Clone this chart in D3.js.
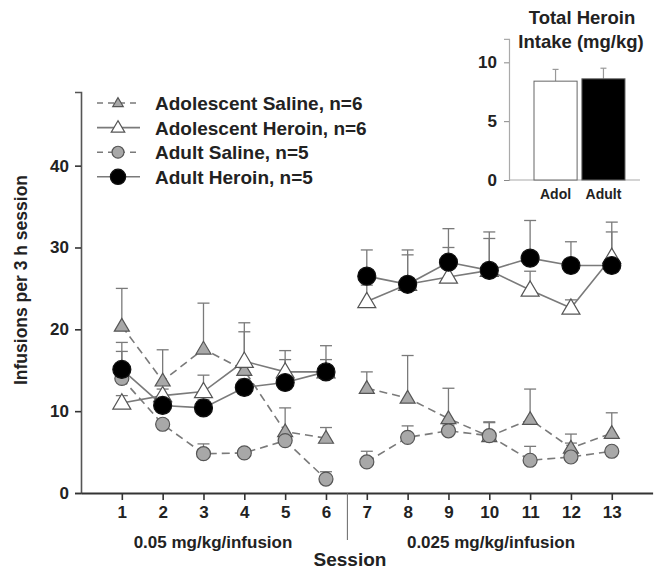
<!DOCTYPE html>
<html>
<head>
<meta charset="utf-8">
<script src="https://cdn.jsdelivr.net/npm/d3@7"></script>
<style>
body { margin: 0; background: #fff; }
text { font-family: "Liberation Sans", Arial, sans-serif; font-weight: bold; fill: #222; }
</style>
</head>
<body>
<div id="chart"></div>
<script>
// sessions and dose labels
var sessions = [1,2,3,4,5,6,7,8,9,10,11,12,13];
var doseLabels = ["0.05 mg/kg/infusion", "0.025 mg/kg/infusion"];

// infusions per session (mean) and SEM
var adolSaline    = [20.4,13.7,17.6,15.0, 7.5, 6.7,12.8,11.6, 9.1, 6.9, 9.0, 5.5, 7.3];
var adolSalineErr = [ 4.6, 3.8, 5.6, 4.7, 2.9, 1.3, 2.0, 5.2, 3.7, 1.8, 3.7, 1.7, 2.5];
var adolHeroin    = [11.0,11.9,12.4,16.1,14.8,14.8,23.4,25.5,26.4,27.2,24.8,22.6,28.8];
var adolHeroinErr = [ 0.9, 0.8, 2.0, 4.7, 1.5, 1.5, 2.0, 3.6, 3.6, 3.9, 2.3, 1.0, 4.3];
var adultSaline    = [14.0, 8.4, 4.8, 4.9, 6.4, 1.7, 3.8, 6.8, 7.6, 7.0, 4.0, 4.4, 5.1];
var adultSalineErr = [ 3.3, 0.5, 1.2, 0.5, 0.6, 0.9, 1.3, 1.4, 0.7, 1.6, 1.7, 1.7, 0.4];
var adultHeroin    = [15.1,10.7,10.4,12.9,13.5,14.8,26.5,25.5,28.2,27.2,28.7,27.8,27.8];
var adultHeroinErr = [ 3.3, 1.0, 1.0, 1.0, 3.9, 3.2, 3.2, 4.2, 4.1, 4.7, 4.6, 2.9, 4.1];

// inset: total heroin intake
var insetGroups = ["Adol", "Adult"];
var insetMeans  = [8.4, 8.6];
var insetErr    = [1.0, 0.9];

var width = 654, height = 572;
var svg = d3.select("#chart").append("svg")
	.attr("width", width)
	.attr("height", height);

var x = d3.scaleLinear().domain([0, 14]).range([81, 652.6]);
var y = d3.scaleLinear().domain([0, 49]).range([493, 92]);

var lineCol = "#7a7a7a";

// axes
var yAxis = svg.append("g").attr("transform", "translate(81,0)")
	.call(d3.axisLeft(y).tickValues([0,10,20,30,40]).tickSize(6).tickPadding(6));
yAxis.select(".domain").attr("stroke", "#555").attr("stroke-width", 1.6);
yAxis.selectAll(".tick line").attr("stroke", "#333").attr("stroke-width", 1.6);
yAxis.selectAll(".tick text").style("font-size", "17px").attr("fill", "#222");

var xAxis = svg.append("g").attr("transform", "translate(0,493)")
	.call(d3.axisBottom(x).tickValues(sessions).tickSize(7).tickPadding(6).tickSizeOuter(0));
xAxis.select(".domain").attr("stroke", "#333").attr("stroke-width", 2);
xAxis.selectAll(".tick line").attr("stroke", "#333").attr("stroke-width", 1.6);
xAxis.selectAll(".tick text").style("font-size", "17px").attr("fill", "#222");

// divider between dose phases
svg.append("line")
	.attr("x1", x(6.5) + 1).attr("x2", x(6.5) + 1)
	.attr("y1", 493).attr("y2", 540)
	.attr("stroke", "#666").attr("stroke-width", 1);

svg.append("text").attr("x", 213).attr("y", 548)
	.attr("text-anchor", "middle").style("font-size", "17px").text(doseLabels[0]);
svg.append("text").attr("x", 491).attr("y", 548)
	.attr("text-anchor", "middle").style("font-size", "17px").text(doseLabels[1]);
svg.append("text").attr("x", 350).attr("y", 566)
	.attr("text-anchor", "middle").style("font-size", "19px").text("Session");

svg.append("text")
	.attr("transform", "translate(27,280) rotate(-90)")
	.attr("text-anchor", "middle").style("font-size", "17.5px")
	.text("Infusions per 3 h session");

// series
var series = [
	{ name: "Adolescent Saline, n=6", vals: adolSaline, err: adolSalineErr, shape: "tri", size: 15, fill: "#a8a8a8", dash: "8,5" },
	{ name: "Adolescent Heroin, n=6", vals: adolHeroin, err: adolHeroinErr, shape: "tri", size: 18, fill: "#fff", dash: null },
	{ name: "Adult Saline, n=5", vals: adultSaline, err: adultSalineErr, shape: "circ", size: 7, fill: "#a8a8a8", dash: "8,5" },
	{ name: "Adult Heroin, n=5", vals: adultHeroin, err: adultHeroinErr, shape: "circ", size: 9, fill: "#000", dash: null }
];

function drawMarker(g, s, cx, cy, scale) {
	var k = scale || 1;
	if (s.shape == "circ") {
		g.append("circle").attr("cx", cx).attr("cy", cy).attr("r", s.size * k)
			.attr("fill", s.fill).attr("stroke", s.fill == "#000" ? "#111" : "#555").attr("stroke-width", 1.2);
	} else {
		var w = s.size * k, h = w * 0.85;
		var pts = [[cx, cy - h * 0.6], [cx - w / 2, cy + h * 0.4], [cx + w / 2, cy + h * 0.4]];
		g.append("path").attr("d", "M" + pts.join("L") + "Z")
			.attr("fill", s.fill).attr("stroke", "#555").attr("stroke-width", 1.2);
	}
}

var line = d3.line().x(function(d) { return x(d.s); }).y(function(d) { return y(d.v); });

// error bars first
series.forEach(function(s) {
	var g = svg.append("g");
	sessions.forEach(function(ses, i) {
		var top = y(s.vals[i] + s.err[i]);
		g.append("line").attr("x1", x(ses)).attr("x2", x(ses))
			.attr("y1", y(s.vals[i])).attr("y2", top)
			.attr("stroke", lineCol).attr("stroke-width", 1.3);
		g.append("line").attr("x1", x(ses) - 6).attr("x2", x(ses) + 6)
			.attr("y1", top).attr("y2", top)
			.attr("stroke", lineCol).attr("stroke-width", 1.3);
	});
});

// lines, one per phase
series.forEach(function(s) {
	var pts = sessions.map(function(ses, i) { return { s: ses, v: s.vals[i] }; });
	[pts.slice(0, 6), pts.slice(6)].forEach(function(seg) {
		svg.append("path").datum(seg).attr("d", line)
			.attr("fill", "none").attr("stroke", lineCol).attr("stroke-width", 1.6)
			.attr("stroke-dasharray", s.dash);
	});
});

// markers
series.forEach(function(s) {
	var g = svg.append("g");
	sessions.forEach(function(ses, i) { drawMarker(g, s, x(ses), y(s.vals[i])); });
});

// legend
var legend = svg.append("g");
series.forEach(function(s, i) {
	var ly = 103 + i * 24.6;
	legend.append("line").attr("x1", 97).attr("x2", 140).attr("y1", ly).attr("y2", ly)
		.attr("stroke", lineCol).attr("stroke-width", 1.6).attr("stroke-dasharray", s.dash ? "6,5" : null);
	drawMarker(legend, s, 118, ly, i == 0 ? 0.7 : (i == 1 ? 0.75 : 0.85));
	legend.append("text").attr("x", 155).attr("y", ly + 7).style("font-size", "19px").text(s.name);
});

// inset bar chart
var iy = d3.scaleLinear().domain([0, 12]).range([180, 38.8]);
var ix = d3.scaleBand().domain(insetGroups).range([534, 625]).paddingInner(0.1);

var iyAxis = svg.append("g").attr("transform", "translate(509,0)")
	.call(d3.axisLeft(iy).tickValues([0,5,10]).tickSize(5).tickPadding(7));
iyAxis.select(".domain").attr("stroke", "#aaa").attr("stroke-width", 1.2);
iyAxis.selectAll(".tick line").attr("stroke", "#888");
iyAxis.selectAll(".tick text").style("font-size", "17px").attr("fill", "#222");

svg.append("line").attr("x1", 509).attr("x2", 640).attr("y1", 180).attr("y2", 180)
	.attr("stroke", "#aaa").attr("stroke-width", 1.2);

insetGroups.forEach(function(gname, i) {
	var cx = ix(gname) + ix.bandwidth() / 2;
	var top = iy(insetMeans[i] + insetErr[i]);
	svg.append("line").attr("x1", cx).attr("x2", cx).attr("y1", iy(insetMeans[i])).attr("y2", top)
		.attr("stroke", "#999").attr("stroke-width", 1.2);
	svg.append("line").attr("x1", cx - 3).attr("x2", cx + 3).attr("y1", top).attr("y2", top)
		.attr("stroke", "#999").attr("stroke-width", 1.2);
	svg.append("rect").attr("x", ix(gname)).attr("y", iy(insetMeans[i]))
		.attr("width", ix.bandwidth()).attr("height", 180 - iy(insetMeans[i]))
		.attr("fill", i == 0 ? "#fff" : "#000").attr("stroke", "#666").attr("stroke-width", 1);
	svg.append("text").attr("x", cx).attr("y", 199).attr("text-anchor", "middle")
		.style("font-size", "14px").text(gname);
});

svg.append("text").attr("x", 582).attr("y", 24).attr("text-anchor", "middle")
	.style("font-size", "18.5px").text("Total Heroin");
svg.append("text").attr("x", 581).attr("y", 48).attr("text-anchor", "middle")
	.style("font-size", "18.5px").text("Intake (mg/kg)");
</script>
</body>
</html>
